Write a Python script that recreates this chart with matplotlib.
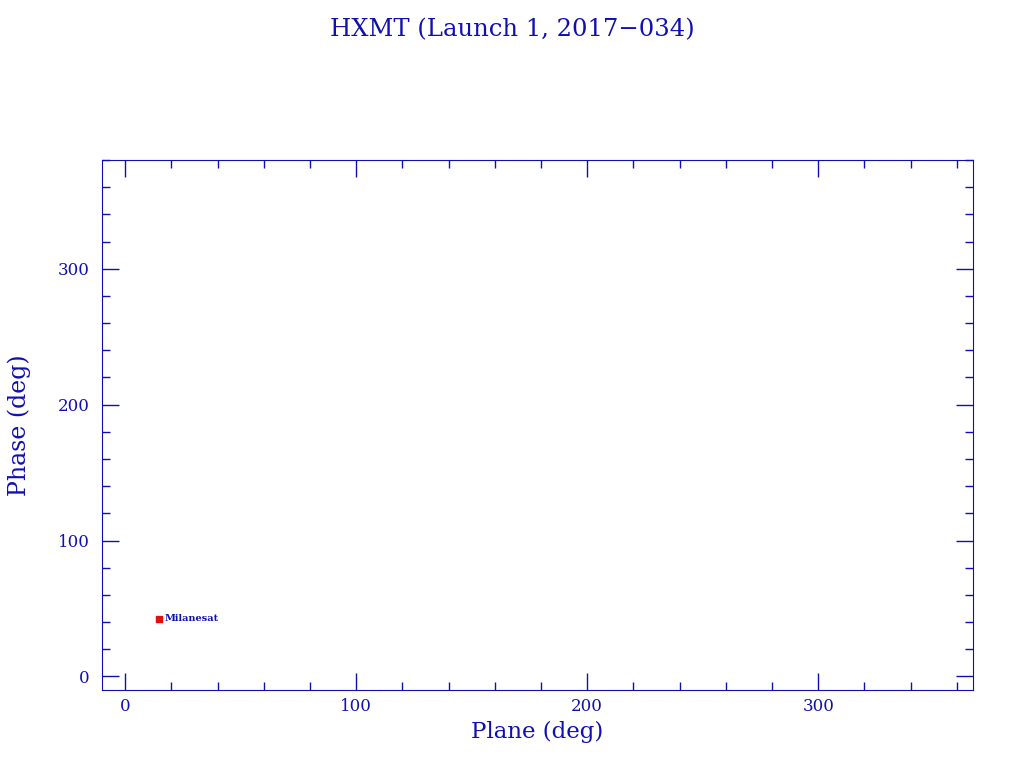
import matplotlib
matplotlib.use("Agg")
import matplotlib.pyplot as plt
from matplotlib.ticker import MultipleLocator

# ==========================================
# DATA
# ==========================================

names = ["Milanesat"]
plane = [14.7]
phase = [42.6]

blue = "#1010b0"

plt.rcParams["font.family"] = ["DejaVu Serif"]

fig = plt.figure(figsize=(10.24, 7.68), dpi=100)
ax = fig.add_axes([102/1024, 78/768, 871/1024, 530/768])

ax.scatter(plane, phase, marker="s", s=22, color="#e01010", edgecolors="#e01010", zorder=3)

for x, y, name in zip(plane, phase, names):
    ax.text(x + 2.2, y, name, color=blue, fontsize=7, fontweight="bold",
            va="center", ha="left")

ax.set_xlim(-10, 367)
ax.set_ylim(-10, 380)

ax.xaxis.set_major_locator(MultipleLocator(100))
ax.xaxis.set_minor_locator(MultipleLocator(20))
ax.yaxis.set_major_locator(MultipleLocator(100))
ax.yaxis.set_minor_locator(MultipleLocator(20))

ax.tick_params(which="both", direction="in", top=True, right=True,
               color=blue, labelcolor=blue, labelsize=12, width=1)
ax.tick_params(which="major", length=12)
ax.tick_params(axis="x", which="major", pad=6)
ax.tick_params(axis="y", which="major", pad=9)
ax.tick_params(which="minor", length=6)

for s in ax.spines.values():
    s.set_color(blue)

ax.set_xlabel("Plane (deg)", color=blue, fontsize=16.5, labelpad=4)
ax.set_ylabel("Phase (deg)", color=blue, fontsize=17, labelpad=19)

fig.text(0.5, 1 - 30/768, "HXMT (Launch 1, 2017\u2212034)", color=blue,
         fontsize=17.5, ha="center", va="center")

fig.savefig("out.png", dpi=100, facecolor="white")
